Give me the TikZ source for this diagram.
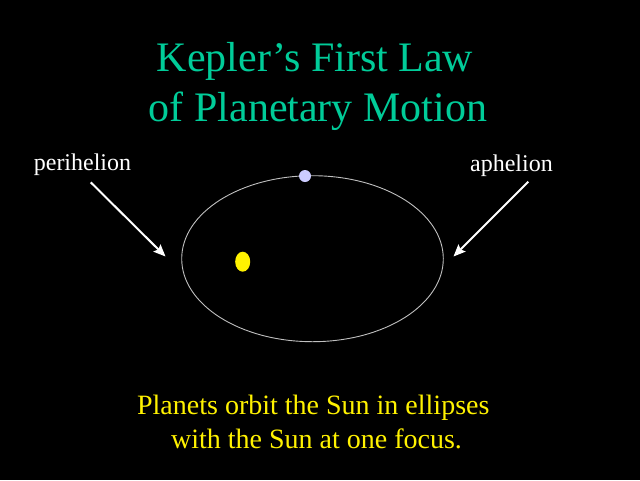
\documentclass[tikz,border=0pt]{standalone}
\usepackage{fontspec}
\setmainfont{Liberation Serif}
\usetikzlibrary{arrows.meta,shapes.geometric}
\definecolor{titlegreen}{RGB}{0,204,153}
\definecolor{orbitgray}{RGB}{192,192,192}
\definecolor{planetblue}{RGB}{204,204,255}
\begin{document}
\begin{tikzpicture}[x=1pt,y=-1pt,
	title/.style={ text=titlegreen, anchor=base, inner sep=0pt, font=\fontsize{42}{50}\selectfont },
	label/.style={ text=white, anchor=base, inner sep=0pt, font=\fontsize{24}{28}\selectfont },
	caption/.style={ text=yellow, anchor=base, inner sep=0pt, font=\fontsize{28}{34}\selectfont },
	pointer/.style={ white, line width=2pt, -{Stealth[length=12pt,width=10pt,inset=2pt]} }
]

\fill[black] (0,0) rectangle (640,480);
\useasboundingbox (0,0) rectangle (640,480);

\node[title] at (315,71.7) (title1) {Kepler’s First Law};
\node[title] at (318,121.7) (title2) {of Planetary Motion};

\node[draw=orbitgray, line width=0.9pt, ellipse, minimum width=261.6pt, minimum height=166pt, inner sep=0pt] at (312.5,258.7) (orbit) {};
\node[fill=yellow, ellipse, minimum width=15pt, minimum height=20pt, inner sep=0pt] at (242.7,261.7) (sun) {};
\node[fill=planetblue, circle, minimum size=12pt, inner sep=0pt] at (305,176) (planet) {};

\node[label] at (82.5,170.7) (peri) {perihelion};
\node[label] at (511.5,171.7) (aph) {aphelion};

\coordinate (periTail) at (90.7,182.3);
\coordinate (periTip) at (165.5,256.5);
\coordinate (aphTail) at (528.3,181.7);
\coordinate (aphTip) at (453.5,256.5);
\draw[pointer] (periTail) -- (periTip);
\draw[pointer] (aphTail) -- (aphTip);

\node[caption] at (313.3,414.3) (cap1) {Planets orbit the Sun in ellipses};
\node[caption] at (316.5,448.3) (cap2) {with the Sun at one focus.};

\end{tikzpicture}
\end{document}
